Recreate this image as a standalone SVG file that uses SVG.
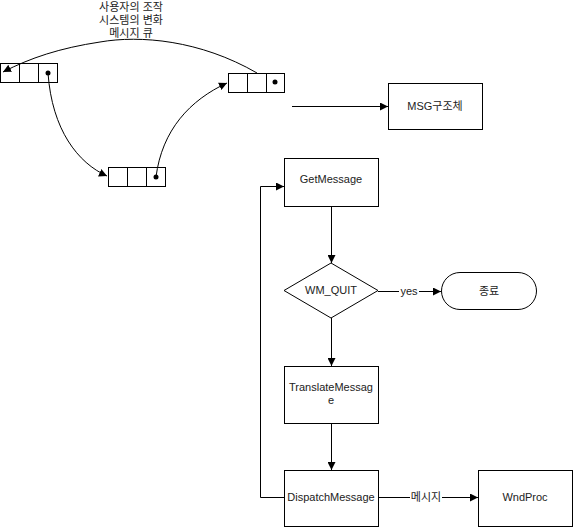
<svg xmlns="http://www.w3.org/2000/svg" width="574" height="527" viewBox="0 0 574 527">
<style>
.box{fill:#fff;stroke:#000;stroke-width:1}
.ln{fill:none;stroke:#000;stroke-width:1}
.t{font-family:"Liberation Sans","Noto Sans CJK KR",sans-serif;font-size:11px;fill:#222;text-anchor:middle}
.lbl{fill:#fff;stroke:none}
</style>
<defs>
<marker id="ah" viewBox="0 0 10 10" refX="10" refY="5" markerWidth="8" markerHeight="8" markerUnits="userSpaceOnUse" orient="auto">
<path d="M0,0 L10,5 L0,10 z" fill="#000"/>
</marker>
</defs>
<rect width="574" height="527" fill="#fff"/>
<g id="caption">
<text class="t" x="131" y="11">사용자의 조작</text>
<text class="t" x="131" y="24">시스템의 변화</text>
<text class="t" x="131" y="37">메시지 큐</text>
</g>
<g id="queue1">
<rect class="box" x="0.5" y="63.5" width="57" height="19"/>
<line class="ln" x1="19.5" y1="63.5" x2="19.5" y2="82.5"/>
<line class="ln" x1="38.5" y1="63.5" x2="38.5" y2="82.5"/>
<circle cx="48" cy="73" r="2.5" fill="#000"/>
</g>
<g id="queue2">
<rect class="box" x="108.5" y="167.5" width="57" height="19"/>
<line class="ln" x1="127.5" y1="167.5" x2="127.5" y2="186.5"/>
<line class="ln" x1="146.5" y1="167.5" x2="146.5" y2="186.5"/>
<circle cx="156" cy="177" r="2.5" fill="#000"/>
</g>
<g id="queue3">
<rect class="box" x="228.5" y="73.5" width="56" height="19"/>
<line class="ln" x1="247.5" y1="73.5" x2="247.5" y2="92.5"/>
<line class="ln" x1="266.5" y1="73.5" x2="266.5" y2="92.5"/>
<circle cx="275" cy="82" r="2.5" fill="#000"/>
</g>
<g id="msg">
<rect class="box" x="388.5" y="83.5" width="94" height="46"/>
<text class="t" x="435" y="110">MSG구조체</text>
</g>
<g id="getmessage">
<rect class="box" x="284.5" y="158.5" width="94" height="48"/>
<text class="t" x="331" y="183">GetMessage</text>
</g>
<g id="wmquit">
<path class="box" d="M331,263 L378,290.5 L331,318 L284,290.5 Z"/>
<text class="t" x="331" y="294">WM_QUIT</text>
</g>
<g id="end">
<rect class="box" x="441.5" y="272.5" width="95" height="37" rx="18.5" ry="18.5"/>
<text class="t" x="489" y="295">종료</text>
</g>
<g id="translate">
<rect class="box" x="284.5" y="366.5" width="94" height="57"/>
<text class="t" x="331" y="391">TranslateMessag</text>
<text class="t" x="331" y="404">e</text>
</g>
<g id="dispatch">
<rect class="box" x="284.5" y="470.5" width="94" height="56"/>
<text class="t" x="331" y="501">DispatchMessage</text>
</g>
<g id="wndproc">
<rect class="box" x="478.5" y="470.5" width="94" height="56"/>
<text class="t" x="525" y="501">WndProc</text>
</g>
<g id="connectors">
<path class="ln" d="M48,73 C52,130 78,163 107,176" marker-end="url(#ah)"/>
<path class="ln" d="M156,177 C162,130 190,100 227,83" marker-end="url(#ah)"/>
<path class="ln" d="M257,73 C200,40 140,35 100,42 C60,48 30,58 3,72" marker-end="url(#ah)"/>
<path class="ln" d="M292,106.5 L388,106.5" marker-end="url(#ah)"/>
<path class="ln" d="M331.5,207 L331.5,263" marker-end="url(#ah)"/>
<path class="ln" d="M378,291.5 L441,291.5" marker-end="url(#ah)"/>
<rect class="lbl" x="399" y="284" width="20" height="14"/>
<text class="t" x="409" y="295">yes</text>
<path class="ln" d="M331.5,318 L331.5,366" marker-end="url(#ah)"/>
<path class="ln" d="M331.5,424 L331.5,470" marker-end="url(#ah)"/>
<path class="ln" d="M378,497.5 L478,497.5" marker-end="url(#ah)"/>
<rect class="lbl" x="410" y="490" width="32" height="14"/>
<text class="t" x="426" y="501">메시지</text>
<path class="ln" d="M284,497.5 L260.5,497.5 L260.5,186.5 L284,186.5" marker-end="url(#ah)"/>
</g>
</svg>
